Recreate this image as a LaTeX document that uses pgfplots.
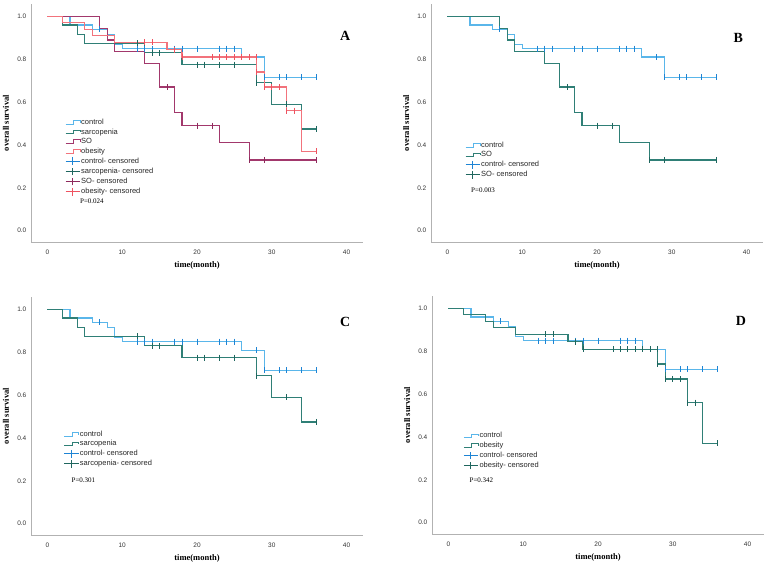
\documentclass[border=0pt]{standalone}
\usepackage{pgfplots}
\pgfplotsset{compat=1.18}
\usepackage{fontspec}
\setmainfont{Liberation Serif}
\newfontfamily\arial{Liberation Sans}

\definecolor{ctrl}{HTML}{5AB6EA}
\definecolor{ctrlm}{HTML}{1E84D4}
\definecolor{teall}{HTML}{2F7F76}
\definecolor{tealm}{HTML}{1F665E}
\definecolor{so}{HTML}{A2386C}
\definecolor{som}{HTML}{8E2A5C}
\definecolor{obes}{HTML}{F2737C}
\definecolor{obesm}{HTML}{EE5260}

\newcommand{\stepimg}[1]{\addlegendimage{legend image code/.code={\draw[#1,line width=1pt] (0pt,-1.8pt)--(8pt,-1.8pt)--(8pt,1.8pt)--(14.5pt,1.8pt)--(14.5pt,-0.4pt);}}}
\newcommand{\cenimg}[1]{\addlegendimage{legend image code/.code={\draw[#1,line width=1pt] (0pt,0pt)--(14.5pt,0pt) (7pt,-3.8pt)--(7pt,3.8pt);}}}

\pgfplotsset{
 km/.style={
  scale only axis, width=332pt, height=238pt,
  xmin=-2.2, xmax=42.2, ymin=-0.053, ymax=1.058,
  axis x line=bottom, axis y line=left,
  axis line style={draw=black!30, line width=0.9pt, -},
  xtick={0,10,20,30,40}, ytick={0,0.2,0.4,0.6,0.8,1.0},
  major tick length=0pt,
  tick label style={font=\arial\fontsize{6.5}{7}\selectfont, text=black!80, inner sep=0pt},
  /pgf/number format/assume math mode=true,
  yticklabel style={/pgf/number format/.cd, fixed, fixed zerofill, precision=1},
  xticklabel shift=7.5pt, yticklabel shift=4.5pt,
  xlabel={time(month)}, ylabel={overall survival},
  label style={font=\bfseries\fontsize{8.5}{9}\selectfont},
  xlabel style={at={(axis description cs:0.5,-0.1)}, anchor=center},
  ylabel style={at={(axis description cs:-0.075,0.5)}, anchor=center},
  legend cell align=left,
  legend style={draw=none, fill=none, font=\arial\fontsize{7.5}{8}\selectfont, text=black!85,
    inner sep=0pt, row sep=1.6pt, column sep=0pt,
    nodes={inner sep=0.6pt, text height=5.4pt, text depth=1.4pt}},
  clip=false,
 },
 stepl/.style={const plot, line width=1.25pt, forget plot},
 cens/.style={only marks, mark=|, mark size=3pt, mark options={line width=0.9pt}, forget plot},
}

\begin{document}
\begin{tikzpicture}
\useasboundingbox (0,0) rectangle (767pt,565pt);

% ---------------- A ----------------
\begin{axis}[km, at={(31pt,323pt)}, anchor=south west,
  legend style={at={(0.102,0.52)}, anchor=north west}]
\stepimg{ctrl}\stepimg{teall}\stepimg{so}\stepimg{obes}
\cenimg{ctrlm}\cenimg{tealm}\cenimg{som}\cenimg{obesm}
\legend{control, sarcopenia, SO, obesity, control- censored, sarcopenia- censored, SO- censored, obesity- censored}
\addplot[stepl, color=ctrl] coordinates {(0,1)(3,0.96)(6,0.94)(8,0.915)(9,0.87)(10,0.85)(26,0.81)(29,0.715)(36,0.715)};
\addplot[stepl, color=teall] coordinates {(0,1)(2,0.96)(4,0.915)(5,0.875)(13,0.83)(18,0.775)(28,0.69)(30,0.59)(34,0.475)(36,0.475)};
\addplot[stepl, color=so] coordinates {(0,1)(7,0.945)(8,0.89)(9,0.835)(13,0.78)(15,0.67)(17,0.55)(18,0.49)(23,0.41)(27,0.33)(36,0.33)};
\addplot[stepl, color=obes] coordinates {(0,1)(2,0.97)(5,0.94)(6,0.91)(9,0.88)(16,0.845)(18,0.81)(28,0.74)(29,0.67)(32,0.56)(34,0.37)(36,0.37)};
\addplot[cens, color=ctrlm] coordinates {(7,0.94)(12,0.85)(13,0.85)(14,0.85)(17,0.85)(18,0.85)(20,0.85)(23,0.85)(24,0.85)(25,0.85)(28,0.81)(29,0.715)(31,0.715)(32,0.715)(34,0.715)(36,0.715)};
\addplot[cens, color=tealm] coordinates {(12,0.875)(14,0.83)(15,0.83)(20,0.775)(21,0.775)(23,0.775)(25,0.775)(28,0.69)(32,0.59)(36,0.475)};
\addplot[cens, color=som] coordinates {(16,0.67)(20,0.49)(22,0.49)(27,0.33)(29,0.33)(36,0.33)};
\addplot[cens, color=obesm] coordinates {(13,0.88)(14,0.88)(17,0.845)(18,0.81)(22,0.81)(23,0.81)(24,0.81)(25,0.81)(26,0.81)(27,0.81)(28,0.81)(28,0.74)(29,0.67)(30,0.67)(31,0.67)(32,0.56)(33,0.56)(36,0.37)};
\node[font=\bfseries\fontsize{14}{14}\selectfont] at (axis cs:39.8,0.91) {A};
\node[anchor=west, font=\fontsize{7}{8}\selectfont] at (axis cs:3.9,0.136) {P=0.024};
\end{axis}

% ---------------- B ----------------
\begin{axis}[km, at={(431pt,323pt)}, anchor=south west,
  legend style={at={(0.102,0.424)}, anchor=north west}]
\stepimg{ctrl}\stepimg{teall}
\cenimg{ctrlm}\cenimg{tealm}
\legend{control, SO, control- censored, SO- censored}
\addplot[stepl, color=ctrl] coordinates {(0,1)(3,0.96)(6,0.94)(8,0.915)(9,0.87)(10,0.85)(26,0.81)(29,0.715)(36,0.715)};
\addplot[stepl, color=teall] coordinates {(0,1)(7,0.945)(8,0.89)(9,0.835)(13,0.78)(15,0.67)(17,0.55)(18,0.49)(23,0.41)(27,0.33)(36,0.33)};
\addplot[cens, color=ctrlm] coordinates {(7,0.94)(12,0.85)(13,0.85)(14,0.85)(17,0.85)(18,0.85)(20,0.85)(23,0.85)(24,0.85)(25,0.85)(28,0.81)(29,0.715)(31,0.715)(32,0.715)(34,0.715)(36,0.715)};
\addplot[cens, color=tealm] coordinates {(16,0.67)(20,0.49)(22,0.49)(27,0.33)(29,0.33)(36,0.33)};
\node[font=\bfseries\fontsize{14}{14}\selectfont] at (axis cs:38.9,0.898) {B};
\node[anchor=west, font=\fontsize{7}{8}\selectfont] at (axis cs:2.7,0.188) {P=0.003};
\end{axis}

% ---------------- C ----------------
\begin{axis}[km, at={(31pt,30pt)}, anchor=south west,
  legend style={at={(0.098,0.441)}, anchor=north west}]
\stepimg{ctrl}\stepimg{teall}
\cenimg{ctrlm}\cenimg{tealm}
\legend{control, sarcopenia, control- censored, sarcopenia- censored}
\addplot[stepl, color=ctrl] coordinates {(0,1)(3,0.96)(6,0.94)(8,0.915)(9,0.87)(10,0.85)(26,0.81)(29,0.715)(36,0.715)};
\addplot[stepl, color=teall] coordinates {(0,1)(2,0.96)(4,0.915)(5,0.875)(13,0.83)(18,0.775)(28,0.69)(30,0.59)(34,0.475)(36,0.475)};
\addplot[cens, color=ctrlm] coordinates {(7,0.94)(12,0.85)(13,0.85)(14,0.85)(17,0.85)(18,0.85)(20,0.85)(23,0.85)(24,0.85)(25,0.85)(28,0.81)(29,0.715)(31,0.715)(32,0.715)(34,0.715)(36,0.715)};
\addplot[cens, color=tealm] coordinates {(12,0.875)(14,0.83)(15,0.83)(20,0.775)(21,0.775)(23,0.775)(25,0.775)(28,0.69)(32,0.59)(36,0.475)};
\node[font=\bfseries\fontsize{14}{14}\selectfont] at (axis cs:39.8,0.94) {C};
\node[anchor=west, font=\fontsize{7}{8}\selectfont] at (axis cs:2.76,0.203) {P=0.301};
\end{axis}

% ---------------- D ----------------
\begin{axis}[km, at={(432pt,31pt)}, anchor=south west,
  legend style={at={(0.094,0.43)}, anchor=north west}]
\stepimg{ctrl}\stepimg{teall}
\cenimg{ctrlm}\cenimg{tealm}
\legend{control, obesity, control- censored, obesity- censored}
\addplot[stepl, color=ctrl] coordinates {(0,1)(3,0.96)(6,0.94)(8,0.915)(9,0.87)(10,0.85)(26,0.81)(29,0.715)(36,0.715)};
\addplot[stepl, color=teall] coordinates {(0,1)(2,0.97)(5,0.94)(6,0.91)(9,0.88)(16,0.845)(18,0.81)(28,0.74)(29,0.67)(32,0.56)(34,0.37)(36,0.37)};
\addplot[cens, color=ctrlm] coordinates {(7,0.94)(12,0.85)(13,0.85)(14,0.85)(17,0.85)(18,0.85)(20,0.85)(23,0.85)(24,0.85)(25,0.85)(28,0.81)(29,0.715)(31,0.715)(32,0.715)(34,0.715)(36,0.715)};
\addplot[cens, color=tealm] coordinates {(13,0.88)(14,0.88)(17,0.845)(18,0.81)(22,0.81)(23,0.81)(24,0.81)(25,0.81)(26,0.81)(27,0.81)(28,0.81)(28,0.74)(29,0.67)(30,0.67)(31,0.67)(32,0.56)(33,0.56)(36,0.37)};
\node[font=\bfseries\fontsize{14}{14}\selectfont] at (axis cs:39.1,0.94) {D};
\node[anchor=west, font=\fontsize{7}{8}\selectfont] at (axis cs:2.36,0.197) {P=0.342};
\end{axis}
\end{tikzpicture}
\end{document}
